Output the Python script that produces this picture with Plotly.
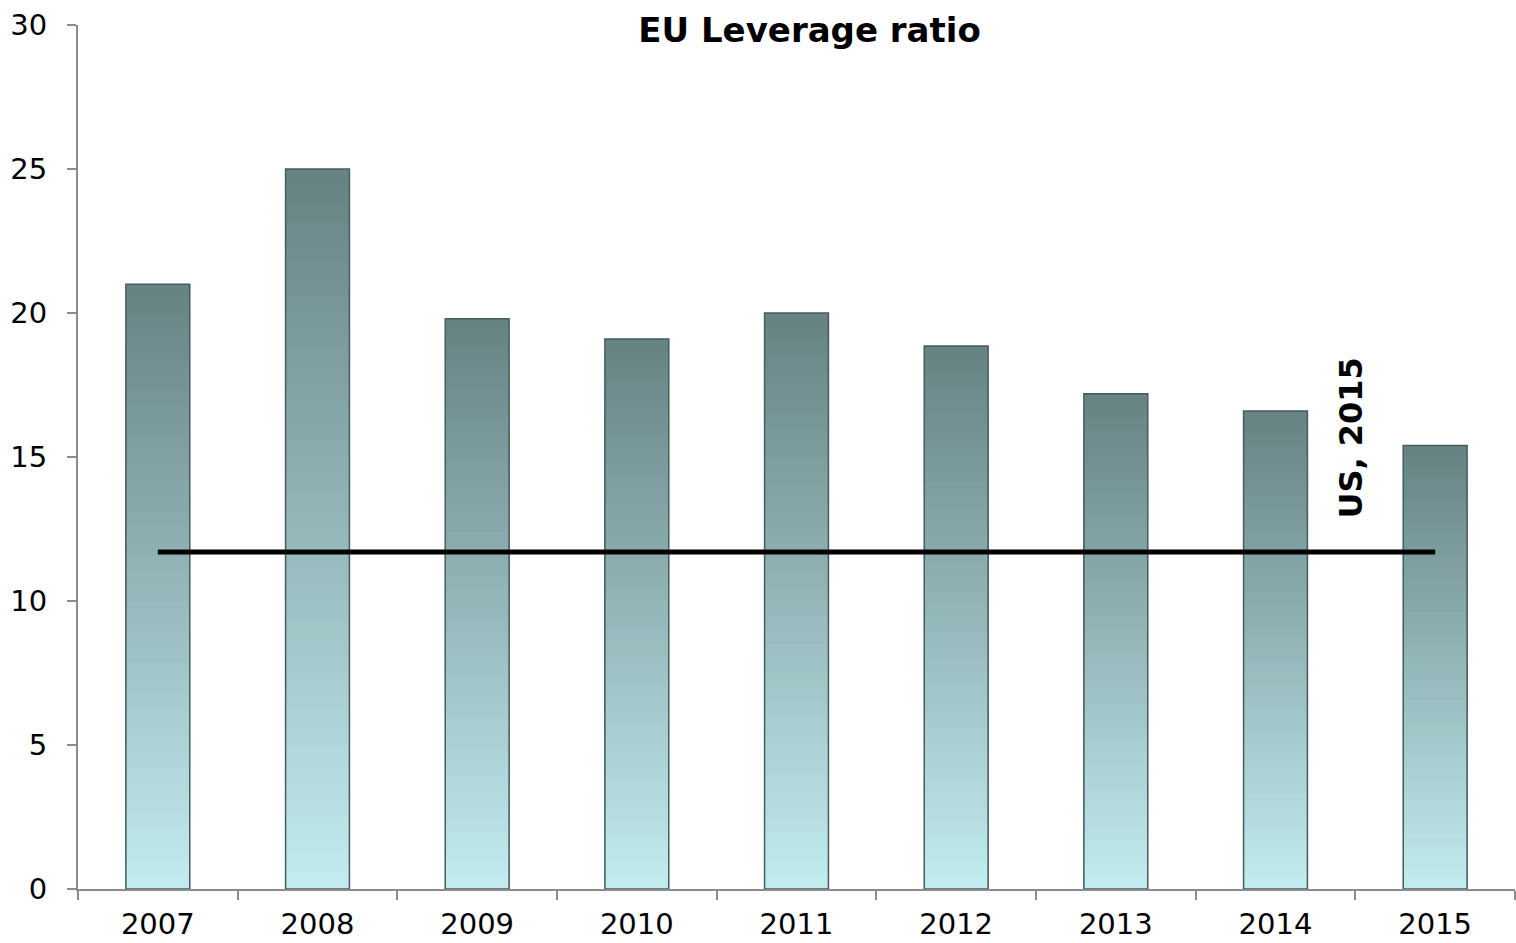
import plotly.graph_objects as go

years = ["2007", "2008", "2009", "2010", "2011", "2012", "2013", "2014", "2015"]
eu_leverage = [21.0, 25.0, 19.8, 19.1, 20.0, 18.85, 17.2, 16.6, 15.4]
us_2015 = 11.7
y_ticks = [0, 5, 10, 15, 20, 25, 30]

FONT = "DejaVu Sans, Verdana, sans-serif"
top_rgb = (0x66, 0x82, 0x83)
bot_rgb = (0xc2, 0xec, 0xf0)
N = 40

fig = go.Figure()
# vertical gradient per bar: nested bars of the same data, tallest (darkest) drawn first
for k in range(N - 1, -1, -1):
    f = (k + 0.5) / N
    c = tuple(round(bot_rgb[i] + (top_rgb[i] - bot_rgb[i]) * f) for i in range(3))
    fig.add_trace(go.Bar(
        x=years,
        y=[v * (k + 1) / N for v in eu_leverage],
        marker=dict(color="rgb(%d,%d,%d)" % c, line=dict(width=0)),
        width=0.4,
        showlegend=False,
        hoverinfo="skip",
    ))
# outline edge
fig.add_trace(go.Bar(
    x=years, y=eu_leverage, width=0.4,
    marker=dict(color="rgba(0,0,0,0)", line=dict(color="#465c5e", width=1.5)),
    showlegend=False, name="EU leverage ratio",
))
fig.add_trace(go.Scatter(
    x=years, y=[us_2015] * len(years), mode="lines",
    line=dict(color="black", width=5),
    showlegend=False, name="US, 2015",
))

fig.update_layout(
    width=1516, height=943,
    barmode="overlay",
    plot_bgcolor="white", paper_bgcolor="white",
    margin=dict(l=78, r=1, t=25, b=54),
    font=dict(family=FONT, size=29, color="black"),
    title=dict(text="<b>EU Leverage ratio</b>", x=0.534, xanchor="center",
               y=1 - 30 / 943, yanchor="middle", yref="container",
               font=dict(family=FONT, size=34, color="black")),
    xaxis=dict(type="category", showline=True, linecolor="#8c8c8c", linewidth=2,
               ticks="outside", tickson="boundaries", ticklen=9, tickcolor="#8c8c8c",
               tickwidth=2, showgrid=False, ticklabelstandoff=8, automargin=False,
               tickfont=dict(family=FONT, size=29)),
    yaxis=dict(range=[0, 30], tickvals=y_ticks, showline=True, linecolor="#8c8c8c",
               linewidth=2, ticks="outside", ticklen=9, tickcolor="#8c8c8c",
               tickwidth=2, showgrid=False, zeroline=False, ticklabelstandoff=14,
               automargin=False, tickfont=dict(family=FONT, size=29)),
    annotations=[dict(
        x=7.47, y=15.66, xref="x", yref="y", text="<b>US, 2015</b>",
        textangle=-90, showarrow=False, xanchor="center", yanchor="middle",
        font=dict(family=FONT, size=32, color="black"),
    )],
)

fig.write_html("out.html")
